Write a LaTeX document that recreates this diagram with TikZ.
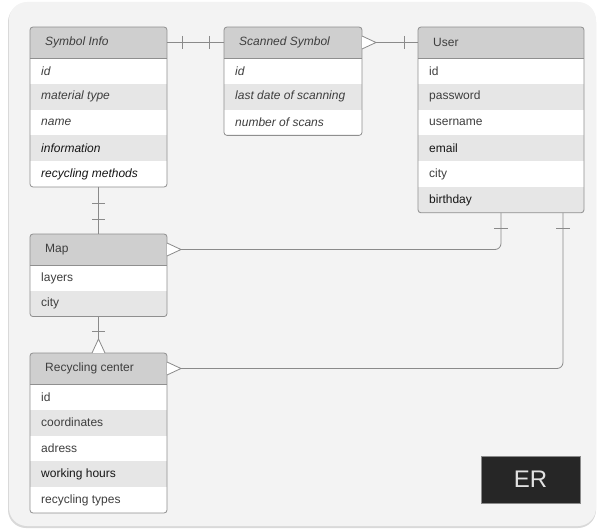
\documentclass[tikz,border=0pt]{standalone}
\usepackage{fontspec}
\setmainfont{Liberation Sans}
\usetikzlibrary{calc}

\definecolor{canvas}{HTML}{F3F3F3}
\definecolor{canvasedge}{HTML}{D9D9D9}
\definecolor{headfill}{HTML}{CFCFCF}
\definecolor{rowgray}{HTML}{E6E6E6}
\definecolor{framecol}{HTML}{8F8F8F}
\definecolor{linecol}{HTML}{8A8A8A}
\definecolor{ink}{HTML}{3E3E3E}
\definecolor{inkdark}{HTML}{161616}
\definecolor{erfill}{HTML}{262626}
\definecolor{ertext}{HTML}{E2E2E2}

\newcommand\erfont{\fontsize{12}{14}\selectfont}

% Entity table: #1 name, #2 left, #3 top, #4 width, #5 number of rows,
% #6 shape of the lettering, #7 title, #8 attributes
\newcommand\ertable[8]{%
  \pgfmathsetmacro\erh{31+#5*25.8}
  \begin{scope}
    \clip[rounded corners=3] (#2,#3) rectangle ++(#4,\erh);
    \node[headbox, minimum width=#4, anchor=north west] (#1-head) at (#2,#3) {};
    \foreach \t [count=\i] in {#8} {
      \pgfmathtruncatemacro\odd{mod(\i,2)}
      \pgfmathsetmacro\rowtop{#3+31+(\i-1)*25.8}
      \ifnum\odd=1 \def\rf{white}\else\def\rf{rowgray}\fi
      \node[rowbox, fill=\rf, minimum width=#4, anchor=north west]
        (#1-r\i) at (#2,\rowtop) {};
      \node[attr, font={\erfont#6}] (#1-t\i) at ($(#1-r\i.west)+(11,0)$) {\t};
    }
  \end{scope}
  \node[frame, minimum width=#4, minimum height=\erh, anchor=north west] (#1) at (#2,#3) {};
  \draw[framecol, line width=0.8pt] (#1-head.south west) -- (#1-head.south east);
  \node[titletext, font={\erfont#6}] (#1-title) at ($(#1-head.west)+(15,0)$) {#7};
}

\begin{document}
\begin{tikzpicture}[x=1pt, y=-1pt,
  headbox/.style={fill=headfill, inner sep=0, outer sep=0, minimum height=31},
  rowbox/.style={inner sep=0, outer sep=0, minimum height=25.8},
  frame/.style={draw=framecol, line width=0.8pt, rounded corners=3, inner sep=0, outer sep=0},
  attr/.style={anchor=west, inner sep=0, text=ink},
  titletext/.style={anchor=west, inner sep=0, text=ink},
  conn/.style={draw=linecol, line width=0.8pt},
  erbox/.style={fill=erfill, draw=linecol, line width=0.5pt, text=ertext,
    minimum width=99, minimum height=47, inner sep=0, font=\fontsize{24}{26}\selectfont}
]
\useasboundingbox (0,0) rectangle (597,529);

% canvas with a soft lower edge
\fill[canvasedge, rounded corners=18] (8,4) rectangle (596,528);
\fill[canvas, rounded corners=18] (9,2) rectangle (596,526);

% entities
\ertable{sym}{30}{27}{137}{5}{\itshape}{Symbol Info}
  {id, material type, name, \textcolor{inkdark}{information}, \textcolor{inkdark}{recycling methods}}
\ertable{scan}{224}{27}{138}{3}{\itshape}{Scanned Symbol}
  {id, last date of scanning, number of scans}
\ertable{user}{418}{27}{166}{6}{\upshape}{User}
  {id, password, username, \textcolor{inkdark}{email}, city, \textcolor{inkdark}{birthday}}
\ertable{map}{30}{234}{137}{2}{\upshape}{Map}
  {layers, city}
\ertable{rec}{30}{353}{137}{5}{\upshape}{Recycling center}
  {id, coordinates, adress, \textcolor{inkdark}{working hours}, recycling types}

\coordinate (user-port) at ($(user.south east)+(-21,0)$);

% Symbol Info -- Scanned Symbol (one to one)
\draw[conn] (sym-head.east) -- (scan-head.west);
\draw[conn] ($(sym-head.east)+(15,-6.5)$) -- ++(0,13);
\draw[conn] ($(scan-head.west)+(-15,-6.5)$) -- ++(0,13);

% Scanned Symbol -- User (many to one)
\draw[conn] (scan-head.east) -- (user-head.west);
\draw[conn, fill=white] ($(scan-head.east)+(0,-6.5)$) -- ($(scan-head.east)+(14,0)$) -- ($(scan-head.east)+(0,6.5)$);
\draw[conn] ($(user-head.west)+(-14,-6.5)$) -- ++(0,13);

% Symbol Info -- Map (one to one)
\draw[conn] (sym.south) -- (map-head.north);
\draw[conn] ($(sym.south)+(-6.5,16)$) -- ++(13,0);
\draw[conn] ($(sym.south)+(-6.5,32)$) -- ++(13,0);

% Map -- Recycling center (one to many)
\draw[conn] (map.south) -- (rec-head.north);
\draw[conn] ($(map.south)+(-6.5,15)$) -- ++(13,0);
\draw[conn, fill=white] ($(rec-head.north)+(-6.5,0)$) -- ($(rec-head.north)+(0,-14)$) -- ($(rec-head.north)+(6.5,0)$);

% Map -- User (many to one)
\draw[conn, rounded corners=6] (map-head.east) -| (user.south);
\draw[conn, fill=white] ($(map-head.east)+(0,-6.5)$) -- ($(map-head.east)+(14,0)$) -- ($(map-head.east)+(0,6.5)$);
\draw[conn] ($(user.south)+(-7,16)$) -- ++(14,0);

% Recycling center -- User (many to one)
\draw[conn, rounded corners=6] (rec-head.east) -| (user-port);
\draw[conn, fill=white] ($(rec-head.east)+(0,-6.5)$) -- ($(rec-head.east)+(14,0)$) -- ($(rec-head.east)+(0,6.5)$);
\draw[conn] ($(user-port)+(-7,16)$) -- ++(14,0);

% diagram tag
\node[erbox] (er) at (530.5,479.5) {ER};
\end{tikzpicture}
\end{document}
